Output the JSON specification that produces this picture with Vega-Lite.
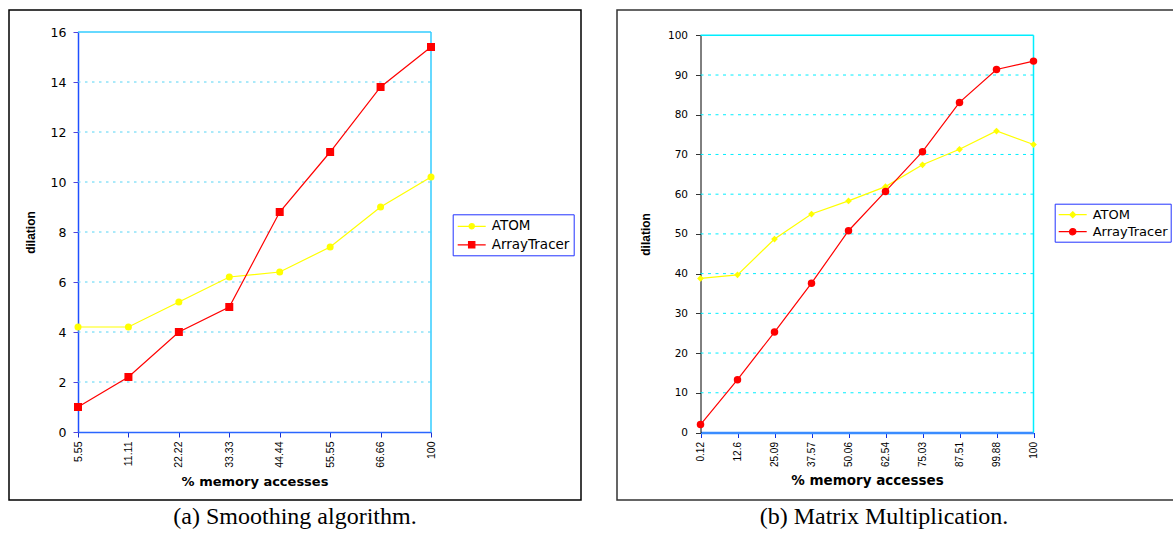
{
  "$schema": "https://vega.github.io/schema/vega-lite/v6.json",
  "padding": {"left": 8, "top": 9, "right": 0, "bottom": 0},
  "background": "white",
  "spacing": 34,
  "datasets": {
    "a": [
      {"x": 5.55, "series": "ATOM", "v": 4.2},
      {"x": 11.11, "series": "ATOM", "v": 4.2},
      {"x": 22.22, "series": "ATOM", "v": 5.2},
      {"x": 33.33, "series": "ATOM", "v": 6.2},
      {"x": 44.44, "series": "ATOM", "v": 6.4},
      {"x": 55.55, "series": "ATOM", "v": 7.4},
      {"x": 66.66, "series": "ATOM", "v": 9.0},
      {"x": 100, "series": "ATOM", "v": 10.2},
      {"x": 5.55, "series": "ArrayTracer", "v": 1.0},
      {"x": 11.11, "series": "ArrayTracer", "v": 2.2},
      {"x": 22.22, "series": "ArrayTracer", "v": 4.0},
      {"x": 33.33, "series": "ArrayTracer", "v": 5.0},
      {"x": 44.44, "series": "ArrayTracer", "v": 8.8},
      {"x": 55.55, "series": "ArrayTracer", "v": 11.2},
      {"x": 66.66, "series": "ArrayTracer", "v": 13.8},
      {"x": 100, "series": "ArrayTracer", "v": 15.4}
    ],
    "b": [
      {"x": 0.12, "series": "ATOM", "v": 38.8},
      {"x": 12.6, "series": "ATOM", "v": 39.7},
      {"x": 25.09, "series": "ATOM", "v": 48.7},
      {"x": 37.57, "series": "ATOM", "v": 55.0},
      {"x": 50.06, "series": "ATOM", "v": 58.3},
      {"x": 62.54, "series": "ATOM", "v": 61.9},
      {"x": 75.03, "series": "ATOM", "v": 67.4},
      {"x": 87.51, "series": "ATOM", "v": 71.3},
      {"x": 99.88, "series": "ATOM", "v": 75.9},
      {"x": 100, "series": "ATOM", "v": 72.5},
      {"x": 0.12, "series": "ArrayTracer", "v": 2.0},
      {"x": 12.6, "series": "ArrayTracer", "v": 13.3},
      {"x": 25.09, "series": "ArrayTracer", "v": 25.3},
      {"x": 37.57, "series": "ArrayTracer", "v": 37.6},
      {"x": 50.06, "series": "ArrayTracer", "v": 50.8},
      {"x": 62.54, "series": "ArrayTracer", "v": 60.7},
      {"x": 75.03, "series": "ArrayTracer", "v": 70.7},
      {"x": 87.51, "series": "ArrayTracer", "v": 83.1},
      {"x": 99.88, "series": "ArrayTracer", "v": 91.4},
      {"x": 100, "series": "ArrayTracer", "v": 93.5}
    ],
    "gridA": [{"g": 2}, {"g": 4}, {"g": 6}, {"g": 8}, {"g": 10}, {"g": 12}, {"g": 14}],
    "gridB": [{"g": 10}, {"g": 20}, {"g": 30}, {"g": 40}, {"g": 50}, {"g": 60}, {"g": 70}, {"g": 80}, {"g": 90}]
  },
  "resolve": {
    "scale": {"x": "independent", "y": "independent", "color": "independent", "stroke": "independent", "shape": "independent"},
    "legend": {"color": "independent", "stroke": "independent", "shape": "independent"}
  },
  "hconcat": [
    {
      "width": 572,
      "height": 490,
      "view": {"stroke": "#000000", "strokeWidth": 1.5},
      "title": {"text": "(a) Smoothing algorithm.", "orient": "bottom", "frame": "group", "anchor": "middle", "font": "Liberation Serif", "fontSize": 24, "fontWeight": "normal", "color": "#000000", "offset": 5},
      "layer": [
        {
          "data": {"name": "a"},
          "mark": {"type": "point", "filled": true, "opacity": 0},
          "encoding": {
            "x": {"field": "x", "type": "ordinal",
              "scale": {"type": "point", "domain": [5.55, 11.11, 22.22, 33.33, 44.44, 55.55, 66.66, 100], "range": [69, 422], "padding": 0},
              "axis": {"title": "% memory accesses", "orient": "bottom", "offset": -68, "labelAngle": -90, "labelFont": "Liberation Sans", "labelFontSize": 10.5, "labelColor": "#000000", "labelPadding": 4, "tickSize": 5, "tickColor": "#1a2fd0", "domainColor": "#2a66ff", "domainWidth": 1.5, "titleFont": "DejaVu Sans", "titleFontSize": 13, "titleFontWeight": "bold", "titleColor": "#000000", "titlePadding": 8, "grid": false, "zindex": 0}},
            "y": {"field": "v", "type": "quantitative",
              "scale": {"domain": [0, 16], "range": [422, 22], "nice": false, "zero": true},
              "axis": {"title": "dilation", "values": [0, 2, 4, 6, 8, 10, 12, 14, 16], "offset": -69, "labelFont": "DejaVu Sans", "labelFontSize": 12.5, "labelColor": "#000000", "labelPadding": 7, "tickSize": 5, "tickColor": "#5544dd", "domainColor": "#1f4fff", "domainWidth": 1.5, "titleFont": "Liberation Sans", "titleFontSize": 12, "titleFontWeight": "bold", "titleColor": "#000000", "titlePadding": 13, "grid": false, "zindex": 0}},
            "color": {"field": "series", "type": "nominal", "scale": {"domain": ["ATOM", "ArrayTracer"], "range": ["#ffff00", "#ff0000"]},
              "legend": {"title": null, "orient": "none", "legendX": 443.7, "legendY": 204.3, "strokeColor": "#2233ff", "fillColor": "#ffffff", "padding": 4, "symbolSize": 196, "symbolStrokeWidth": 1.2, "symbolOpacity": 1, "labelFont": "DejaVu Sans", "labelFontSize": 13.5, "labelColor": "#000000", "labelOffset": 19, "rowPadding": 3.5}},
            "stroke": {"field": "series", "type": "nominal", "scale": {"domain": ["ATOM", "ArrayTracer"], "range": ["#ffff00", "#ff0000"]},
              "legend": {"title": null, "orient": "none", "legendX": 443.7, "legendY": 204.3, "strokeColor": "#2233ff", "fillColor": "#ffffff", "padding": 4, "symbolSize": 196, "symbolStrokeWidth": 1.2, "symbolOpacity": 1, "labelFont": "DejaVu Sans", "labelFontSize": 13.5, "labelColor": "#000000", "labelOffset": 19, "rowPadding": 3.5}},
            "shape": {"field": "series", "type": "nominal", "scale": {"domain": ["ATOM", "ArrayTracer"], "range": ["M-1,0H3M0.62,0A0.38,0.38,0,1,1,1.38,0A0.38,0.38,0,1,1,0.62,0Z", "M-1,0H3M0.55,-0.45H1.45V0.45H0.55Z"]},
              "legend": {"title": null, "orient": "none", "legendX": 443.7, "legendY": 204.3, "strokeColor": "#2233ff", "fillColor": "#ffffff", "padding": 4, "symbolSize": 196, "symbolStrokeWidth": 1.2, "symbolOpacity": 1, "labelFont": "DejaVu Sans", "labelFontSize": 13.5, "labelColor": "#000000", "labelOffset": 19, "rowPadding": 3.5}}
          }
        },
        {
          "data": {"name": "gridA"},
          "mark": {"type": "rule", "stroke": "#55d4f5", "strokeWidth": 1, "strokeDash": [2.5, 4.5]},
          "encoding": {
            "y": {"field": "g", "type": "quantitative",
              "scale": {"domain": [0, 16], "range": [422, 22], "nice": false, "zero": true},
              "axis": {"title": "dilation", "values": [0, 2, 4, 6, 8, 10, 12, 14, 16], "offset": -69, "labelFont": "DejaVu Sans", "labelFontSize": 12.5, "labelColor": "#000000", "labelPadding": 7, "tickSize": 5, "tickColor": "#5544dd", "domainColor": "#1f4fff", "domainWidth": 1.5, "titleFont": "Liberation Sans", "titleFontSize": 12, "titleFontWeight": "bold", "titleColor": "#000000", "titlePadding": 13, "grid": false, "zindex": 0}},
            "x": {"datum": 5.55, "type": "ordinal",
              "scale": {"type": "point", "domain": [5.55, 11.11, 22.22, 33.33, 44.44, 55.55, 66.66, 100], "range": [69, 422], "padding": 0},
              "axis": {"title": "% memory accesses", "orient": "bottom", "offset": -68, "labelAngle": -90, "labelFont": "Liberation Sans", "labelFontSize": 10.5, "labelColor": "#000000", "labelPadding": 4, "tickSize": 5, "tickColor": "#1a2fd0", "domainColor": "#2a66ff", "domainWidth": 1.5, "titleFont": "DejaVu Sans", "titleFontSize": 13, "titleFontWeight": "bold", "titleColor": "#000000", "titlePadding": 8, "grid": false, "zindex": 0}},
            "x2": {"datum": 100}
          }
        },
        {
          "data": {"values": [{}]},
          "mark": {"type": "rule", "stroke": "#33ccff", "strokeWidth": 1.5},
          "encoding": {
            "y": {"datum": 16, "type": "quantitative",
              "scale": {"domain": [0, 16], "range": [422, 22], "nice": false, "zero": true},
              "axis": {"title": "dilation", "values": [0, 2, 4, 6, 8, 10, 12, 14, 16], "offset": -69, "labelFont": "DejaVu Sans", "labelFontSize": 12.5, "labelColor": "#000000", "labelPadding": 7, "tickSize": 5, "tickColor": "#5544dd", "domainColor": "#1f4fff", "domainWidth": 1.5, "titleFont": "Liberation Sans", "titleFontSize": 12, "titleFontWeight": "bold", "titleColor": "#000000", "titlePadding": 13, "grid": false, "zindex": 0}},
            "x": {"datum": 5.55, "type": "ordinal",
              "scale": {"type": "point", "domain": [5.55, 11.11, 22.22, 33.33, 44.44, 55.55, 66.66, 100], "range": [69, 422], "padding": 0},
              "axis": {"title": "% memory accesses", "orient": "bottom", "offset": -68, "labelAngle": -90, "labelFont": "Liberation Sans", "labelFontSize": 10.5, "labelColor": "#000000", "labelPadding": 4, "tickSize": 5, "tickColor": "#1a2fd0", "domainColor": "#2a66ff", "domainWidth": 1.5, "titleFont": "DejaVu Sans", "titleFontSize": 13, "titleFontWeight": "bold", "titleColor": "#000000", "titlePadding": 8, "grid": false, "zindex": 0}},
            "x2": {"datum": 100}
          }
        },
        {
          "data": {"values": [{}]},
          "mark": {"type": "rule", "stroke": "#33ccff", "strokeWidth": 1.5},
          "encoding": {
            "x": {"datum": 100, "type": "ordinal",
              "scale": {"type": "point", "domain": [5.55, 11.11, 22.22, 33.33, 44.44, 55.55, 66.66, 100], "range": [69, 422], "padding": 0},
              "axis": {"title": "% memory accesses", "orient": "bottom", "offset": -68, "labelAngle": -90, "labelFont": "Liberation Sans", "labelFontSize": 10.5, "labelColor": "#000000", "labelPadding": 4, "tickSize": 5, "tickColor": "#1a2fd0", "domainColor": "#2a66ff", "domainWidth": 1.5, "titleFont": "DejaVu Sans", "titleFontSize": 13, "titleFontWeight": "bold", "titleColor": "#000000", "titlePadding": 8, "grid": false, "zindex": 0}},
            "y": {"datum": 0, "type": "quantitative",
              "scale": {"domain": [0, 16], "range": [422, 22], "nice": false, "zero": true},
              "axis": {"title": "dilation", "values": [0, 2, 4, 6, 8, 10, 12, 14, 16], "offset": -69, "labelFont": "DejaVu Sans", "labelFontSize": 12.5, "labelColor": "#000000", "labelPadding": 7, "tickSize": 5, "tickColor": "#5544dd", "domainColor": "#1f4fff", "domainWidth": 1.5, "titleFont": "Liberation Sans", "titleFontSize": 12, "titleFontWeight": "bold", "titleColor": "#000000", "titlePadding": 13, "grid": false, "zindex": 0}},
            "y2": {"datum": 16}
          }
        },
        {
          "data": {"name": "a"},
          "mark": {"type": "line", "strokeWidth": 1.2},
          "encoding": {
            "x": {"field": "x", "type": "ordinal",
              "scale": {"type": "point", "domain": [5.55, 11.11, 22.22, 33.33, 44.44, 55.55, 66.66, 100], "range": [69, 422], "padding": 0},
              "axis": {"title": "% memory accesses", "orient": "bottom", "offset": -68, "labelAngle": -90, "labelFont": "Liberation Sans", "labelFontSize": 10.5, "labelColor": "#000000", "labelPadding": 4, "tickSize": 5, "tickColor": "#1a2fd0", "domainColor": "#2a66ff", "domainWidth": 1.5, "titleFont": "DejaVu Sans", "titleFontSize": 13, "titleFontWeight": "bold", "titleColor": "#000000", "titlePadding": 8, "grid": false, "zindex": 0}},
            "y": {"field": "v", "type": "quantitative",
              "scale": {"domain": [0, 16], "range": [422, 22], "nice": false, "zero": true},
              "axis": {"title": "dilation", "values": [0, 2, 4, 6, 8, 10, 12, 14, 16], "offset": -69, "labelFont": "DejaVu Sans", "labelFontSize": 12.5, "labelColor": "#000000", "labelPadding": 7, "tickSize": 5, "tickColor": "#5544dd", "domainColor": "#1f4fff", "domainWidth": 1.5, "titleFont": "Liberation Sans", "titleFontSize": 12, "titleFontWeight": "bold", "titleColor": "#000000", "titlePadding": 13, "grid": false, "zindex": 0}},
            "color": {"field": "series", "type": "nominal", "scale": {"domain": ["ATOM", "ArrayTracer"], "range": ["#ffff00", "#ff0000"]},
              "legend": {"title": null, "orient": "none", "legendX": 443.7, "legendY": 204.3, "strokeColor": "#2233ff", "fillColor": "#ffffff", "padding": 4, "symbolSize": 196, "symbolStrokeWidth": 1.2, "symbolOpacity": 1, "labelFont": "DejaVu Sans", "labelFontSize": 13.5, "labelColor": "#000000", "labelOffset": 19, "rowPadding": 3.5}}
          }
        },
        {
          "data": {"name": "a"},
          "transform": [{"filter": "datum.series === 'ATOM'"}],
          "mark": {"type": "point", "filled": true, "opacity": 1, "shape": "circle", "color": "#ffff00", "size": 49},
          "encoding": {
            "x": {"field": "x", "type": "ordinal",
              "scale": {"type": "point", "domain": [5.55, 11.11, 22.22, 33.33, 44.44, 55.55, 66.66, 100], "range": [69, 422], "padding": 0},
              "axis": {"title": "% memory accesses", "orient": "bottom", "offset": -68, "labelAngle": -90, "labelFont": "Liberation Sans", "labelFontSize": 10.5, "labelColor": "#000000", "labelPadding": 4, "tickSize": 5, "tickColor": "#1a2fd0", "domainColor": "#2a66ff", "domainWidth": 1.5, "titleFont": "DejaVu Sans", "titleFontSize": 13, "titleFontWeight": "bold", "titleColor": "#000000", "titlePadding": 8, "grid": false, "zindex": 0}},
            "y": {"field": "v", "type": "quantitative",
              "scale": {"domain": [0, 16], "range": [422, 22], "nice": false, "zero": true},
              "axis": {"title": "dilation", "values": [0, 2, 4, 6, 8, 10, 12, 14, 16], "offset": -69, "labelFont": "DejaVu Sans", "labelFontSize": 12.5, "labelColor": "#000000", "labelPadding": 7, "tickSize": 5, "tickColor": "#5544dd", "domainColor": "#1f4fff", "domainWidth": 1.5, "titleFont": "Liberation Sans", "titleFontSize": 12, "titleFontWeight": "bold", "titleColor": "#000000", "titlePadding": 13, "grid": false, "zindex": 0}}
          }
        },
        {
          "data": {"name": "a"},
          "transform": [{"filter": "datum.series === 'ArrayTracer'"}],
          "mark": {"type": "point", "filled": true, "opacity": 1, "shape": "square", "color": "#ff0000", "size": 64},
          "encoding": {
            "x": {"field": "x", "type": "ordinal",
              "scale": {"type": "point", "domain": [5.55, 11.11, 22.22, 33.33, 44.44, 55.55, 66.66, 100], "range": [69, 422], "padding": 0},
              "axis": {"title": "% memory accesses", "orient": "bottom", "offset": -68, "labelAngle": -90, "labelFont": "Liberation Sans", "labelFontSize": 10.5, "labelColor": "#000000", "labelPadding": 4, "tickSize": 5, "tickColor": "#1a2fd0", "domainColor": "#2a66ff", "domainWidth": 1.5, "titleFont": "DejaVu Sans", "titleFontSize": 13, "titleFontWeight": "bold", "titleColor": "#000000", "titlePadding": 8, "grid": false, "zindex": 0}},
            "y": {"field": "v", "type": "quantitative",
              "scale": {"domain": [0, 16], "range": [422, 22], "nice": false, "zero": true},
              "axis": {"title": "dilation", "values": [0, 2, 4, 6, 8, 10, 12, 14, 16], "offset": -69, "labelFont": "DejaVu Sans", "labelFontSize": 12.5, "labelColor": "#000000", "labelPadding": 7, "tickSize": 5, "tickColor": "#5544dd", "domainColor": "#1f4fff", "domainWidth": 1.5, "titleFont": "Liberation Sans", "titleFontSize": 12, "titleFontWeight": "bold", "titleColor": "#000000", "titlePadding": 13, "grid": false, "zindex": 0}}
          }
        }
      ]
    },
    {
      "width": 558,
      "height": 490,
      "view": {"stroke": "#333333", "strokeWidth": 1.5},
      "title": {"text": "(b) Matrix Multiplication.", "orient": "bottom", "frame": "group", "anchor": "middle", "dx": -12, "font": "Liberation Serif", "fontSize": 24, "fontWeight": "normal", "color": "#000000", "offset": 5},
      "layer": [
        {
          "data": {"name": "b"},
          "mark": {"type": "point", "filled": true, "opacity": 0},
          "encoding": {
            "x": {"field": "x", "type": "ordinal",
              "scale": {"type": "point", "domain": [0.12, 12.6, 25.09, 37.57, 50.06, 62.54, 75.03, 87.51, 99.88, 100], "range": [83.5, 416.5], "padding": 0},
              "axis": {"title": "% memory accesses", "orient": "bottom", "offset": -67.5, "labelAngle": -90, "labelFont": "Liberation Sans", "labelFontSize": 10, "labelColor": "#000000", "labelPadding": 4, "tickSize": 5, "tickColor": "#1030e0", "domainColor": "#3a8cff", "domainWidth": 2.5, "titleFont": "DejaVu Sans", "titleFontSize": 13.5, "titleFontWeight": "bold", "titleColor": "#000000", "titlePadding": 7, "grid": false, "zindex": 0}},
            "y": {"field": "v", "type": "quantitative",
              "scale": {"domain": [0, 100], "range": [422.5, 25.3], "nice": false, "zero": true},
              "axis": {"title": "dilation", "values": [0, 10, 20, 30, 40, 50, 60, 70, 80, 90, 100], "offset": -83.5, "labelFont": "DejaVu Sans", "labelFontSize": 10.5, "labelColor": "#000000", "labelPadding": 8, "tickSize": 5, "tickColor": "#333333", "domainColor": "#000000", "domainWidth": 1, "titleFont": "Liberation Sans", "titleFontSize": 12, "titleFontWeight": "bold", "titleColor": "#000000", "titlePadding": 15, "grid": false, "zindex": 0}},
            "color": {"field": "series", "type": "nominal", "scale": {"domain": ["ATOM", "ArrayTracer"], "range": ["#ffff00", "#ff0000"]},
              "legend": {"title": null, "orient": "none", "legendX": 437.7, "legendY": 193.7, "strokeColor": "#2233ff", "fillColor": "#ffffff", "padding": 3, "symbolSize": 196, "symbolStrokeWidth": 1.2, "symbolOpacity": 1, "labelFont": "DejaVu Sans", "labelFontSize": 13, "labelColor": "#000000", "labelOffset": 19, "rowPadding": 2}},
            "stroke": {"field": "series", "type": "nominal", "scale": {"domain": ["ATOM", "ArrayTracer"], "range": ["#ffff00", "#ff0000"]},
              "legend": {"title": null, "orient": "none", "legendX": 437.7, "legendY": 193.7, "strokeColor": "#2233ff", "fillColor": "#ffffff", "padding": 3, "symbolSize": 196, "symbolStrokeWidth": 1.2, "symbolOpacity": 1, "labelFont": "DejaVu Sans", "labelFontSize": 13, "labelColor": "#000000", "labelOffset": 19, "rowPadding": 2}},
            "shape": {"field": "series", "type": "nominal", "scale": {"domain": ["ATOM", "ArrayTracer"], "range": ["M-1,0H3M1,-0.42L1.42,0L1,0.42L0.58,0Z", "M-1,0H3M0.55,0A0.45,0.45,0,1,1,1.45,0A0.45,0.45,0,1,1,0.55,0Z"]},
              "legend": {"title": null, "orient": "none", "legendX": 437.7, "legendY": 193.7, "strokeColor": "#2233ff", "fillColor": "#ffffff", "padding": 3, "symbolSize": 196, "symbolStrokeWidth": 1.2, "symbolOpacity": 1, "labelFont": "DejaVu Sans", "labelFontSize": 13, "labelColor": "#000000", "labelOffset": 19, "rowPadding": 2}}
          }
        },
        {
          "data": {"name": "gridB"},
          "mark": {"type": "rule", "stroke": "#00eeff", "strokeWidth": 1, "strokeDash": [3, 4.5]},
          "encoding": {
            "y": {"field": "g", "type": "quantitative",
              "scale": {"domain": [0, 100], "range": [422.5, 25.3], "nice": false, "zero": true},
              "axis": {"title": "dilation", "values": [0, 10, 20, 30, 40, 50, 60, 70, 80, 90, 100], "offset": -83.5, "labelFont": "DejaVu Sans", "labelFontSize": 10.5, "labelColor": "#000000", "labelPadding": 8, "tickSize": 5, "tickColor": "#333333", "domainColor": "#000000", "domainWidth": 1, "titleFont": "Liberation Sans", "titleFontSize": 12, "titleFontWeight": "bold", "titleColor": "#000000", "titlePadding": 15, "grid": false, "zindex": 0}},
            "x": {"datum": 0.12, "type": "ordinal",
              "scale": {"type": "point", "domain": [0.12, 12.6, 25.09, 37.57, 50.06, 62.54, 75.03, 87.51, 99.88, 100], "range": [83.5, 416.5], "padding": 0},
              "axis": {"title": "% memory accesses", "orient": "bottom", "offset": -67.5, "labelAngle": -90, "labelFont": "Liberation Sans", "labelFontSize": 10, "labelColor": "#000000", "labelPadding": 4, "tickSize": 5, "tickColor": "#1030e0", "domainColor": "#3a8cff", "domainWidth": 2.5, "titleFont": "DejaVu Sans", "titleFontSize": 13.5, "titleFontWeight": "bold", "titleColor": "#000000", "titlePadding": 7, "grid": false, "zindex": 0}},
            "x2": {"datum": 100}
          }
        },
        {
          "data": {"values": [{}]},
          "mark": {"type": "rule", "stroke": "#00eeff", "strokeWidth": 1.5},
          "encoding": {
            "y": {"datum": 100, "type": "quantitative",
              "scale": {"domain": [0, 100], "range": [422.5, 25.3], "nice": false, "zero": true},
              "axis": {"title": "dilation", "values": [0, 10, 20, 30, 40, 50, 60, 70, 80, 90, 100], "offset": -83.5, "labelFont": "DejaVu Sans", "labelFontSize": 10.5, "labelColor": "#000000", "labelPadding": 8, "tickSize": 5, "tickColor": "#333333", "domainColor": "#000000", "domainWidth": 1, "titleFont": "Liberation Sans", "titleFontSize": 12, "titleFontWeight": "bold", "titleColor": "#000000", "titlePadding": 15, "grid": false, "zindex": 0}},
            "x": {"datum": 0.12, "type": "ordinal",
              "scale": {"type": "point", "domain": [0.12, 12.6, 25.09, 37.57, 50.06, 62.54, 75.03, 87.51, 99.88, 100], "range": [83.5, 416.5], "padding": 0},
              "axis": {"title": "% memory accesses", "orient": "bottom", "offset": -67.5, "labelAngle": -90, "labelFont": "Liberation Sans", "labelFontSize": 10, "labelColor": "#000000", "labelPadding": 4, "tickSize": 5, "tickColor": "#1030e0", "domainColor": "#3a8cff", "domainWidth": 2.5, "titleFont": "DejaVu Sans", "titleFontSize": 13.5, "titleFontWeight": "bold", "titleColor": "#000000", "titlePadding": 7, "grid": false, "zindex": 0}},
            "x2": {"datum": 100}
          }
        },
        {
          "data": {"values": [{}]},
          "mark": {"type": "rule", "stroke": "#00eeff", "strokeWidth": 1.5},
          "encoding": {
            "x": {"datum": 100, "type": "ordinal",
              "scale": {"type": "point", "domain": [0.12, 12.6, 25.09, 37.57, 50.06, 62.54, 75.03, 87.51, 99.88, 100], "range": [83.5, 416.5], "padding": 0},
              "axis": {"title": "% memory accesses", "orient": "bottom", "offset": -67.5, "labelAngle": -90, "labelFont": "Liberation Sans", "labelFontSize": 10, "labelColor": "#000000", "labelPadding": 4, "tickSize": 5, "tickColor": "#1030e0", "domainColor": "#3a8cff", "domainWidth": 2.5, "titleFont": "DejaVu Sans", "titleFontSize": 13.5, "titleFontWeight": "bold", "titleColor": "#000000", "titlePadding": 7, "grid": false, "zindex": 0}},
            "y": {"datum": 0, "type": "quantitative",
              "scale": {"domain": [0, 100], "range": [422.5, 25.3], "nice": false, "zero": true},
              "axis": {"title": "dilation", "values": [0, 10, 20, 30, 40, 50, 60, 70, 80, 90, 100], "offset": -83.5, "labelFont": "DejaVu Sans", "labelFontSize": 10.5, "labelColor": "#000000", "labelPadding": 8, "tickSize": 5, "tickColor": "#333333", "domainColor": "#000000", "domainWidth": 1, "titleFont": "Liberation Sans", "titleFontSize": 12, "titleFontWeight": "bold", "titleColor": "#000000", "titlePadding": 15, "grid": false, "zindex": 0}},
            "y2": {"datum": 100}
          }
        },
        {
          "data": {"name": "b"},
          "mark": {"type": "line", "strokeWidth": 1.2},
          "encoding": {
            "x": {"field": "x", "type": "ordinal",
              "scale": {"type": "point", "domain": [0.12, 12.6, 25.09, 37.57, 50.06, 62.54, 75.03, 87.51, 99.88, 100], "range": [83.5, 416.5], "padding": 0},
              "axis": {"title": "% memory accesses", "orient": "bottom", "offset": -67.5, "labelAngle": -90, "labelFont": "Liberation Sans", "labelFontSize": 10, "labelColor": "#000000", "labelPadding": 4, "tickSize": 5, "tickColor": "#1030e0", "domainColor": "#3a8cff", "domainWidth": 2.5, "titleFont": "DejaVu Sans", "titleFontSize": 13.5, "titleFontWeight": "bold", "titleColor": "#000000", "titlePadding": 7, "grid": false, "zindex": 0}},
            "y": {"field": "v", "type": "quantitative",
              "scale": {"domain": [0, 100], "range": [422.5, 25.3], "nice": false, "zero": true},
              "axis": {"title": "dilation", "values": [0, 10, 20, 30, 40, 50, 60, 70, 80, 90, 100], "offset": -83.5, "labelFont": "DejaVu Sans", "labelFontSize": 10.5, "labelColor": "#000000", "labelPadding": 8, "tickSize": 5, "tickColor": "#333333", "domainColor": "#000000", "domainWidth": 1, "titleFont": "Liberation Sans", "titleFontSize": 12, "titleFontWeight": "bold", "titleColor": "#000000", "titlePadding": 15, "grid": false, "zindex": 0}},
            "color": {"field": "series", "type": "nominal", "scale": {"domain": ["ATOM", "ArrayTracer"], "range": ["#ffff00", "#ff0000"]},
              "legend": {"title": null, "orient": "none", "legendX": 437.7, "legendY": 193.7, "strokeColor": "#2233ff", "fillColor": "#ffffff", "padding": 3, "symbolSize": 196, "symbolStrokeWidth": 1.2, "symbolOpacity": 1, "labelFont": "DejaVu Sans", "labelFontSize": 13, "labelColor": "#000000", "labelOffset": 19, "rowPadding": 2}}
          }
        },
        {
          "data": {"name": "b"},
          "transform": [{"filter": "datum.series === 'ATOM'"}],
          "mark": {"type": "point", "filled": true, "opacity": 1, "shape": "diamond", "color": "#ffff00", "size": 45},
          "encoding": {
            "x": {"field": "x", "type": "ordinal",
              "scale": {"type": "point", "domain": [0.12, 12.6, 25.09, 37.57, 50.06, 62.54, 75.03, 87.51, 99.88, 100], "range": [83.5, 416.5], "padding": 0},
              "axis": {"title": "% memory accesses", "orient": "bottom", "offset": -67.5, "labelAngle": -90, "labelFont": "Liberation Sans", "labelFontSize": 10, "labelColor": "#000000", "labelPadding": 4, "tickSize": 5, "tickColor": "#1030e0", "domainColor": "#3a8cff", "domainWidth": 2.5, "titleFont": "DejaVu Sans", "titleFontSize": 13.5, "titleFontWeight": "bold", "titleColor": "#000000", "titlePadding": 7, "grid": false, "zindex": 0}},
            "y": {"field": "v", "type": "quantitative",
              "scale": {"domain": [0, 100], "range": [422.5, 25.3], "nice": false, "zero": true},
              "axis": {"title": "dilation", "values": [0, 10, 20, 30, 40, 50, 60, 70, 80, 90, 100], "offset": -83.5, "labelFont": "DejaVu Sans", "labelFontSize": 10.5, "labelColor": "#000000", "labelPadding": 8, "tickSize": 5, "tickColor": "#333333", "domainColor": "#000000", "domainWidth": 1, "titleFont": "Liberation Sans", "titleFontSize": 12, "titleFontWeight": "bold", "titleColor": "#000000", "titlePadding": 15, "grid": false, "zindex": 0}}
          }
        },
        {
          "data": {"name": "b"},
          "transform": [{"filter": "datum.series === 'ArrayTracer'"}],
          "mark": {"type": "point", "filled": true, "opacity": 1, "shape": "circle", "color": "#ff0000", "size": 56},
          "encoding": {
            "x": {"field": "x", "type": "ordinal",
              "scale": {"type": "point", "domain": [0.12, 12.6, 25.09, 37.57, 50.06, 62.54, 75.03, 87.51, 99.88, 100], "range": [83.5, 416.5], "padding": 0},
              "axis": {"title": "% memory accesses", "orient": "bottom", "offset": -67.5, "labelAngle": -90, "labelFont": "Liberation Sans", "labelFontSize": 10, "labelColor": "#000000", "labelPadding": 4, "tickSize": 5, "tickColor": "#1030e0", "domainColor": "#3a8cff", "domainWidth": 2.5, "titleFont": "DejaVu Sans", "titleFontSize": 13.5, "titleFontWeight": "bold", "titleColor": "#000000", "titlePadding": 7, "grid": false, "zindex": 0}},
            "y": {"field": "v", "type": "quantitative",
              "scale": {"domain": [0, 100], "range": [422.5, 25.3], "nice": false, "zero": true},
              "axis": {"title": "dilation", "values": [0, 10, 20, 30, 40, 50, 60, 70, 80, 90, 100], "offset": -83.5, "labelFont": "DejaVu Sans", "labelFontSize": 10.5, "labelColor": "#000000", "labelPadding": 8, "tickSize": 5, "tickColor": "#333333", "domainColor": "#000000", "domainWidth": 1, "titleFont": "Liberation Sans", "titleFontSize": 12, "titleFontWeight": "bold", "titleColor": "#000000", "titlePadding": 15, "grid": false, "zindex": 0}}
          }
        }
      ]
    }
  ]
}
